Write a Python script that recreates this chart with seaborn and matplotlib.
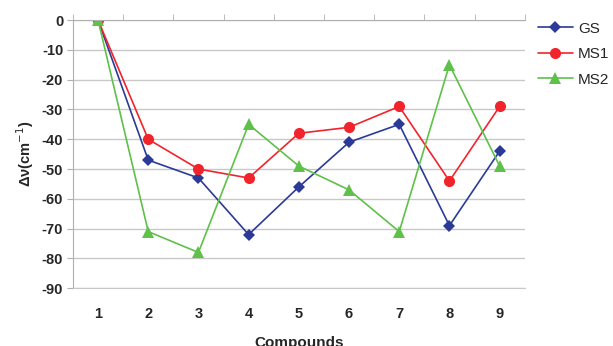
import numpy as np
import pandas as pd
import matplotlib
matplotlib.use('Agg')
import matplotlib.pyplot as plt
import seaborn as sns

# values
compounds = ['1', '2', '3', '4', '5', '6', '7', '8', '9']
gs = [0, -47, -53, -72, -56, -41, -35, -69, -44]
ms1 = [0, -40, -50, -53, -38, -36, -29, -54, -29]
ms2 = [0, -71, -78, -35, -49, -57, -71, -15, -49]
series_names = ['GS', 'MS1', 'MS2']
y_ticks = [0, -10, -20, -30, -40, -50, -60, -70, -80, -90]

palette = {'GS': '#2B3A97', 'MS1': '#F2242B', 'MS2': '#5FC04A'}
markers = {'GS': 'D', 'MS1': 'o', 'MS2': '^'}
msize = {'GS': 6.5, 'MS1': 8, 'MS2': 8.5}

df = pd.concat([
    pd.DataFrame({'pos': np.arange(len(compounds)), 'val': vals, 'series': name})
    for name, vals in zip(series_names, [gs, ms1, ms2])
], ignore_index=True)

sns.set_style('white')
plt.rcParams['font.family'] = ['Liberation Sans', 'DejaVu Sans']

fig = plt.figure(figsize=(6.13, 3.46), dpi=100)
ax = fig.add_axes([0.119, 0.167, 0.737, 0.775])

for name in series_names:
    sub = df[df['series'] == name]
    sns.lineplot(data=sub, x='pos', y='val', ax=ax, color=palette[name],
                 marker=markers[name], markersize=msize[name], markeredgewidth=0,
                 linewidth=1.2, label=name)

ax.set_xlim(-0.5, len(compounds) - 0.5)
ax.set_ylim(-90, 0)
ax.set_yticks(y_ticks)
ax.set_yticklabels([str(t) for t in y_ticks], fontsize=10.5, fontweight='bold')
ax.set_xticks(np.arange(len(compounds)))
ax.set_xticklabels(compounds, fontsize=10.5, fontweight='bold')
ax.set_xticks(np.arange(-0.5, len(compounds)), minor=True)

ax.yaxis.grid(True, color='#C8C8C8', linewidth=1.0)
ax.xaxis.grid(False)
ax.set_axisbelow(True)

ax.spines['right'].set_visible(False)
ax.spines['bottom'].set_color('#C8C8C8')
ax.spines['left'].set_color('#B0B0B0')
ax.spines['top'].set_color('#B0B0B0')

ax.tick_params(axis='y', which='major', left=True, direction='out', length=4,
               color='#B0B0B0', pad=3)
ax.tick_params(axis='x', which='major', bottom=False, top=False, pad=10)
ax.tick_params(axis='x', which='minor', top=True, bottom=False, direction='out',
               length=4, color='#B0B0B0')

ax.set_xlabel('Compounds', fontsize=11, fontweight='bold', labelpad=11)
ax.set_ylabel('Δν(cm$^{-1}$)', fontsize=10.5, fontweight='bold', labelpad=4)

ax.legend(loc='upper left', bbox_to_anchor=(0.877, 0.937), bbox_transform=fig.transFigure,
          frameon=False, fontsize=11, handlelength=2.3, labelspacing=0.75,
          handletextpad=0.35, borderpad=0, borderaxespad=0)

fig.savefig('out.png', dpi=100)
